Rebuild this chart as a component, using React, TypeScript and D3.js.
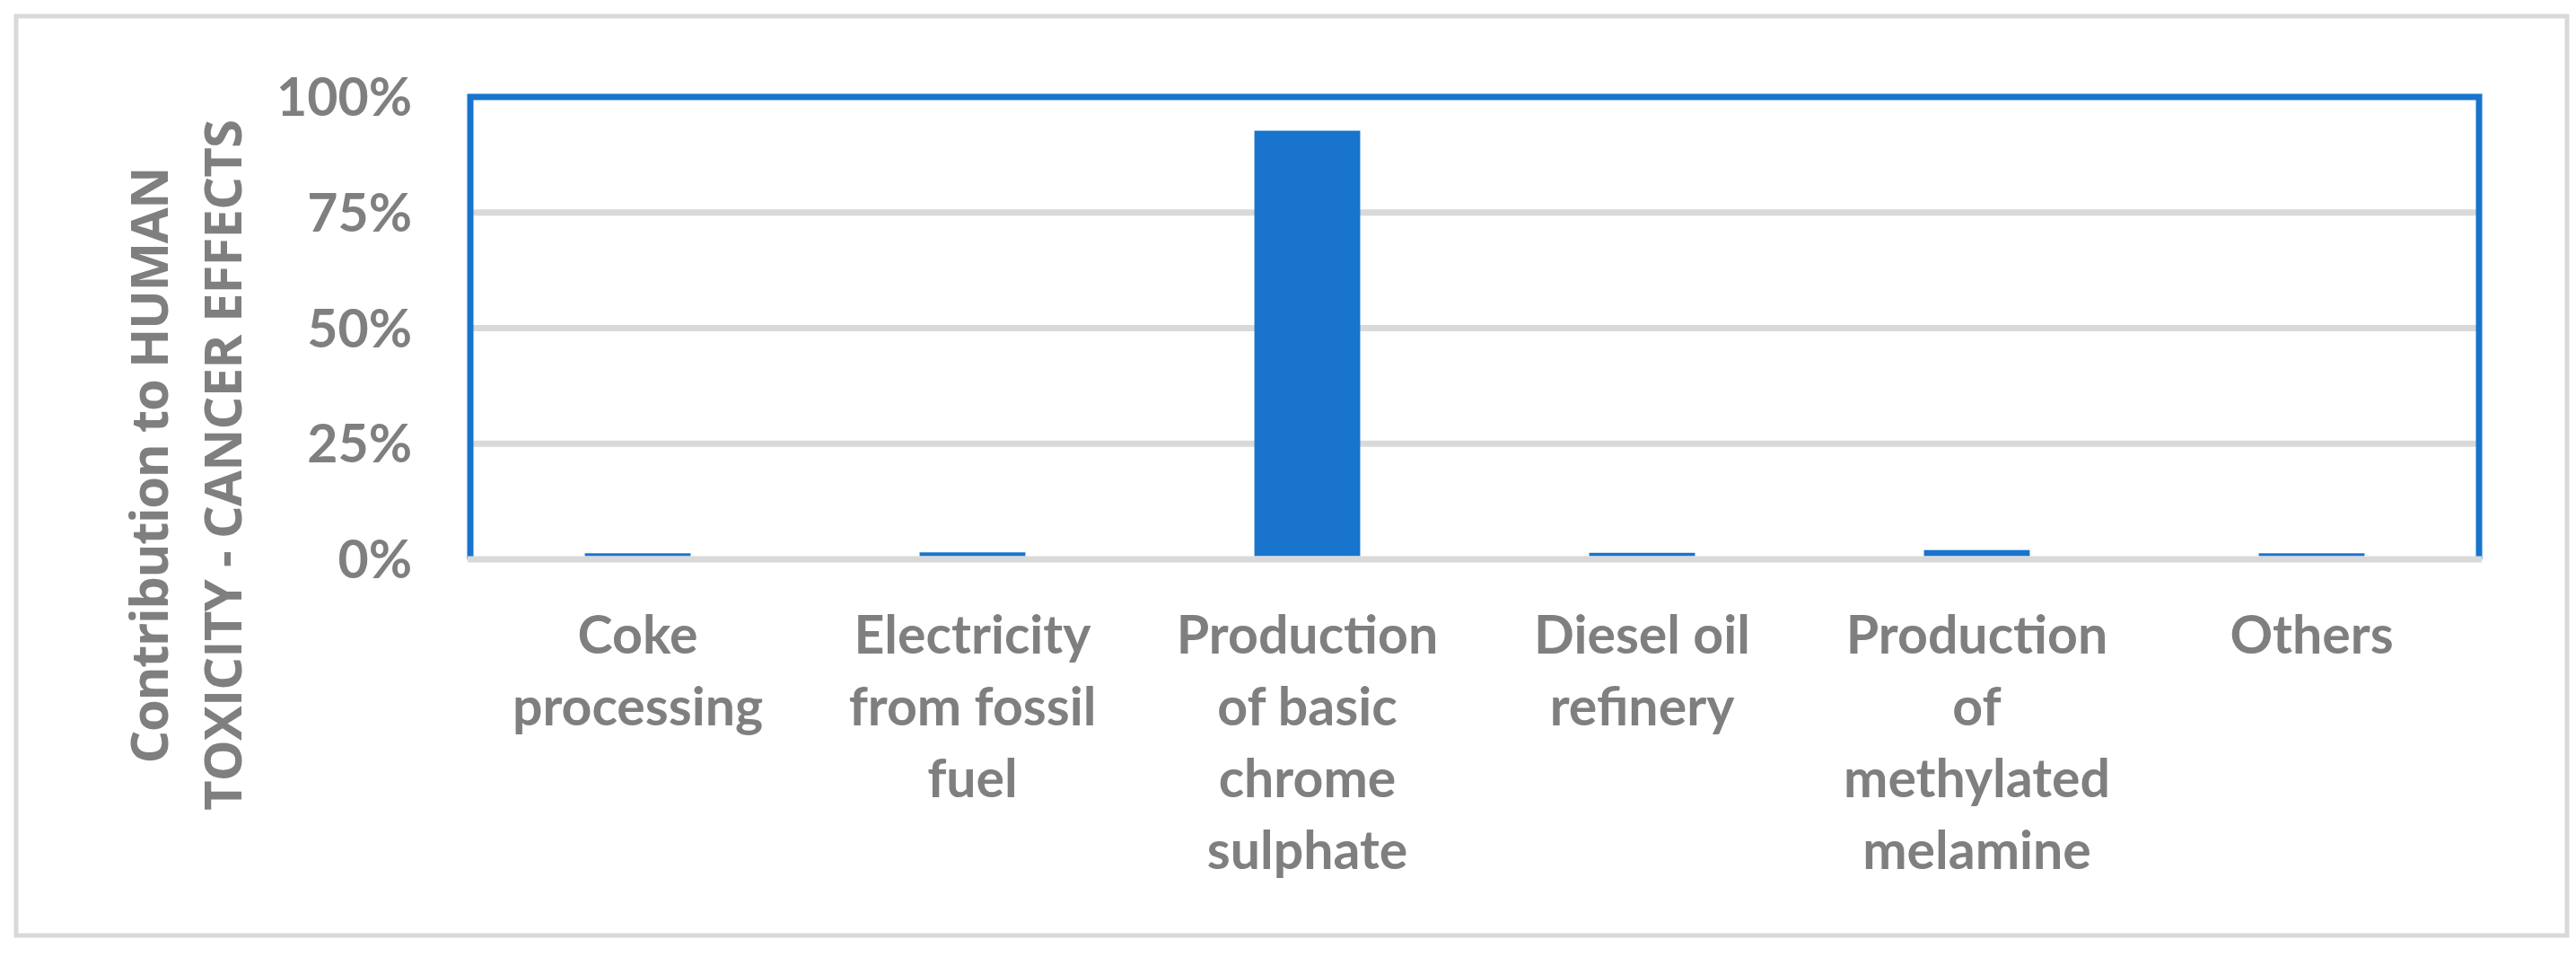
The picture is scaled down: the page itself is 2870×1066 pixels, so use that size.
import * as d3 from "d3"

const categories = [
  "Coke processing",
  "Electricity from fossil fuel",
  "Production of basic chrome sulphate",
  "Diesel oil refinery",
  "Production of methylated melamine",
  "Others",
]
// wrapped the way the picture wraps them
const labelLines = [
  ["Coke", "processing"],
  ["Electricity", "from fossil", "fuel"],
  ["Production", "of basic", "chrome", "sulphate"],
  ["Diesel oil", "refinery"],
  ["Production", "of", "methylated", "melamine"],
  ["Others"],
]
const shares = [0.013, 0.015, 0.927, 0.014, 0.02, 0.013]
const yTicks = [0, 0.25, 0.5, 0.75, 1]
const titleLines = ["Contribution to HUMAN", "TOXICITY - CANCER EFFECTS"]
const titleLengths = [665, 770]

const W = 2870
const H = 1066
const blue = "#1874cd"
const grid = "#d9d9d9"
const txt = "#7f7f7f"
const font = "Lato, 'Open Sans', sans-serif"

export default function App() {
  const x = d3.scaleBand<string>()
    .domain(categories)
    .range([524, 2762])
    .paddingInner(0.684)
    .paddingOuter(0.342)

  const y = d3.scaleLinear().domain([0, 1]).range([623, 108])
  const fmt = d3.format(".0%")

  return (
    <svg width={W} height={H} style={{ position: "absolute", left: 0, top: 0, display: "block" }}>
      <rect x={0} y={0} width={W} height={H} fill="#fff" />
      {/* chart frame */}
      <rect x={18} y={18} width={2842} height={1024} fill="none" stroke={grid} strokeWidth={5} />

      {/* gridlines */}
      {yTicks.filter(t => t > 0 && t < 1).map(t => (
        <line key={t} x1={524} x2={2762} y1={y(t)} y2={y(t)} stroke={grid} strokeWidth={7} />
      ))}

      {/* bars */}
      {categories.map((c, i) => (
        <rect key={c} x={x(c)} y={y(shares[i])} width={x.bandwidth()}
          height={y(0) - 3.5 - y(shares[i])} fill={blue} />
      ))}

      {/* plot border */}
      <path d={`M524,${y(0)} V${y(1)} H2762 V${y(0)}`} fill="none" stroke={blue} strokeWidth={7} />
      <line x1={521} x2={2765} y1={y(0)} y2={y(0)} stroke={grid} strokeWidth={7} />

      {/* y tick labels */}
      {yTicks.map(t => (
        <text key={t} x={459} y={y(t)} dy="0.36em" textAnchor="end" fill={txt}
          fontFamily={font} fontWeight="bold" fontSize={59}>{fmt(t)}</text>
      ))}

      {/* x labels */}
      {categories.map((c, i) => (
        <text key={c} textAnchor="middle" fill={txt} fontFamily={font} fontWeight="bold" fontSize={59}>
          {labelLines[i].map((ln, j) => (
            <tspan key={j} x={x(c)! + x.bandwidth() / 2} y={728 + j * 80}>{ln}</tspan>
          ))}
        </text>
      ))}

      {/* axis title */}
      {titleLines.map((ln, j) => (
        <text key={j} transform={`translate(${187 + j * 82},518) rotate(-90)`} textAnchor="middle"
          fill={txt} fontFamily="'Open Sans', sans-serif" fontWeight="bold" fontSize={58}
          textLength={titleLengths[j]} lengthAdjust="spacing">{ln}</text>
      ))}
    </svg>
  )
}
